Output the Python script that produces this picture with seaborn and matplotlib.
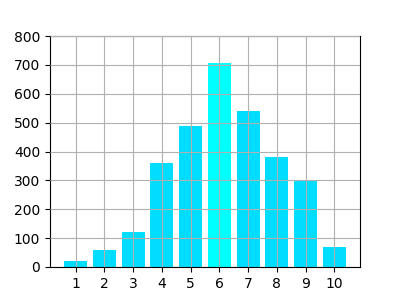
import matplotlib
matplotlib.use("Agg")
import matplotlib.pyplot as plt
import seaborn as sns
import pandas as pd

categories = [1, 2, 3, 4, 5, 6, 7, 8, 9, 10]
values = [20, 60, 120, 360, 490, 705, 540, 380, 300, 70]
bar_colors = ["#00ddff"] * 5 + ["#00ffff"] + ["#00ddff"] * 4

df = pd.DataFrame({"x": categories, "y": values})

fig, ax = plt.subplots(figsize=(4, 3), dpi=100)
sns.barplot(data=df, x="x", y="y", hue="x", palette=bar_colors, legend=False,
            width=0.8, saturation=1, ax=ax)
ax.set_xlim(-0.89, 9.89)
ax.set_ylim(0, 800)
ax.set_xlabel("")
ax.set_ylabel("")
ax.grid(True, color="#b0b0b0", linewidth=0.8)
ax.set_axisbelow(False)
fig.savefig("out.png", dpi=100)
